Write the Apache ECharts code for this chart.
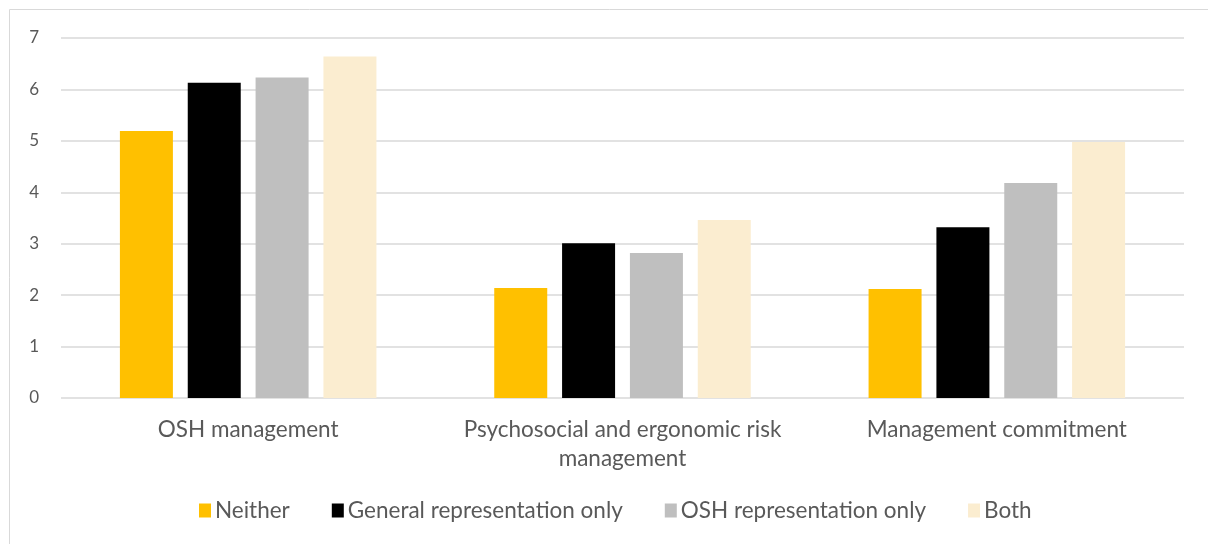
<!DOCTYPE html>
<html>
<head>
<meta charset="utf-8">
<script src="https://cdn.jsdelivr.net/npm/echarts@6/dist/echarts.min.js"></script>
<style>
  html, body { margin: 0; padding: 0; background: #fff; }
  #chart { width: 1208px; height: 544px; }
</style>
</head>
<body>
<div id="chart"></div>
<script>
const categories = ["OSH management", "Psychosocial and ergonomic risk\nmanagement", "Management commitment"];
const neither = [5.19, 2.14, 2.12];
const generalOnly = [6.13, 3.01, 3.32];
const oshOnly = [6.23, 2.82, 4.18];
const both = [6.64, 3.46, 4.98];
const yTicks = [0, 7, 1];

const font = "Lato";
const textColor = "#595959";

function bar(name, data, color) {
  return {
    name: name,
    type: "bar",
    data: data,
    barWidth: 53,
    barGap: "28%",
    itemStyle: { color: color },
  };
}

const chart = echarts.init(document.getElementById("chart"));
chart.setOption({
  animation: false,
  textStyle: { fontFamily: font },
  graphic: [
    {
      type: "rect",
      shape: { x: 9.5, y: 9.5, width: 1220, height: 560 },
      style: { fill: "none", stroke: "#d9d9d9", lineWidth: 1 },
      silent: true,
    },
  ],
  grid: { left: 61, right: 24, top: 38, bottom: 146 },
  legend: {
    bottom: 17,
    left: 194,
    itemWidth: 12,
    itemHeight: 14,
    itemGap: 42,
    icon: "rect",
    textStyle: { color: textColor, fontSize: 22.5, fontFamily: font, padding: [0, 0, 0, -1] },
    data: ["Neither", "General representation only", "OSH representation only", "Both"],
  },
  xAxis: {
    type: "category",
    data: categories,
    axisLine: { show: false },
    axisTick: { show: false },
    axisLabel: {
      color: textColor,
      fontSize: 22.5,
      lineHeight: 29,
      margin: 17,
      interval: 0,
      hideOverlap: false,
      fontFamily: font,
    },
  },
  yAxis: {
    type: "value",
    min: yTicks[0],
    max: yTicks[1],
    interval: yTicks[2],
    axisLine: { show: false },
    axisTick: { show: false },
    axisLabel: { color: textColor, fontSize: 17, margin: 22, fontFamily: font },
    splitLine: { lineStyle: { color: "#d9d9d9", width: 1.5 } },
  },
  series: [
    bar("Neither", neither, "#ffc000"),
    bar("General representation only", generalOnly, "#000000"),
    bar("OSH representation only", oshOnly, "#bfbfbf"),
    bar("Both", both, "#fbedd0"),
  ],
});
</script>
</body>
</html>
